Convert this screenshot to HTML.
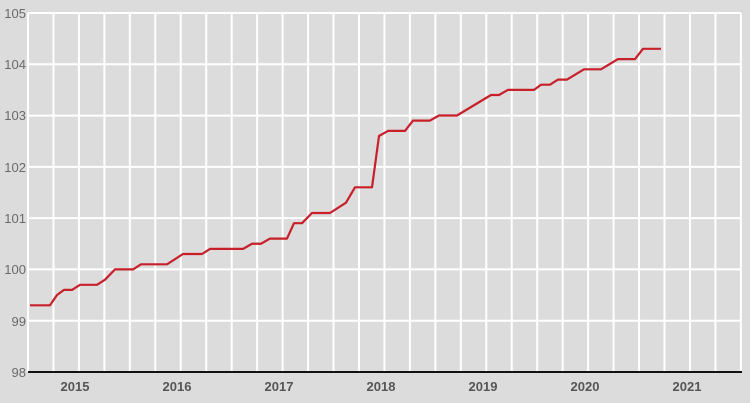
<!DOCTYPE html>
<html><head><style>
html,body{margin:0;padding:0;background:#dcdcdc;}
svg{display:block;font-family:"Liberation Sans",Arial,sans-serif;}
</style></head><body>
<svg width="750" height="403" viewBox="0 0 750 403" xmlns="http://www.w3.org/2000/svg">
<rect width="750" height="403" fill="#dcdcdc"/>
<g stroke="#fff" stroke-width="2">
<line x1="28" x2="741" y1="13" y2="13"/>
<line x1="28" x2="741" y1="64.3" y2="64.3"/>
<line x1="28" x2="741" y1="115.6" y2="115.6"/>
<line x1="28" x2="741" y1="166.9" y2="166.9"/>
<line x1="28" x2="741" y1="218.1" y2="218.1"/>
<line x1="28" x2="741" y1="269.4" y2="269.4"/>
<line x1="28" x2="741" y1="320.7" y2="320.7"/>
</g>
<g stroke="#fff" stroke-width="2" id="v"></g>
<line x1="28" x2="742" y1="372" y2="372" stroke="#111" stroke-width="2"/>
<g fill="#6a6a6a" font-size="13" text-anchor="end">
<text x="26" y="18">105</text><text x="26" y="69">104</text><text x="26" y="120">103</text>
<text x="26" y="172">102</text><text x="26" y="223">101</text><text x="26" y="274">100</text>
<text x="26" y="326">99</text><text x="26" y="377">98</text>
</g>
<g fill="#555" font-size="13" font-weight="bold" text-anchor="middle">
<text x="75" y="391">2015</text><text x="177" y="391">2016</text><text x="279" y="391">2017</text>
<text x="381" y="391">2018</text><text x="483" y="391">2019</text><text x="585" y="391">2020</text>
<text x="687" y="391">2021</text>
</g>
<polyline fill="none" stroke="#c8202a" stroke-width="2.2" stroke-linejoin="round" points="30,305.3 50,305.3 57,295 64,289.9 72,289.9 80,284.8 97,284.8 105,279.7 115,269.4 133,269.4 141,264.3 167,264.3 183,254 202,254 210,248.9 243,248.9 252,243.75 261,243.75 270,238.6 287,238.6 294,223.2 302,223.2 312,213 330,213 346,202.7 355,187.3 372,187.3 379,136 388,130.9 405,130.9 413,120.6 430,120.6 439,115.5 457,115.5 491,95 499,95 508,89.85 534,89.85 541,84.7 550,84.7 558,79.6 567,79.6 584,69.3 601,69.3 618,59.1 635,59.1 643,48.8 661,48.8"/>
<script>
var g=document.getElementById('v');
for(var i=0;i<=28;i++){var x=28+i*25.46;var l=document.createElementNS('http://www.w3.org/2000/svg','line');
l.setAttribute('x1',x);l.setAttribute('x2',x);l.setAttribute('y1',13);l.setAttribute('y2',372);g.appendChild(l);}
</script>
</svg>
</body></html>
